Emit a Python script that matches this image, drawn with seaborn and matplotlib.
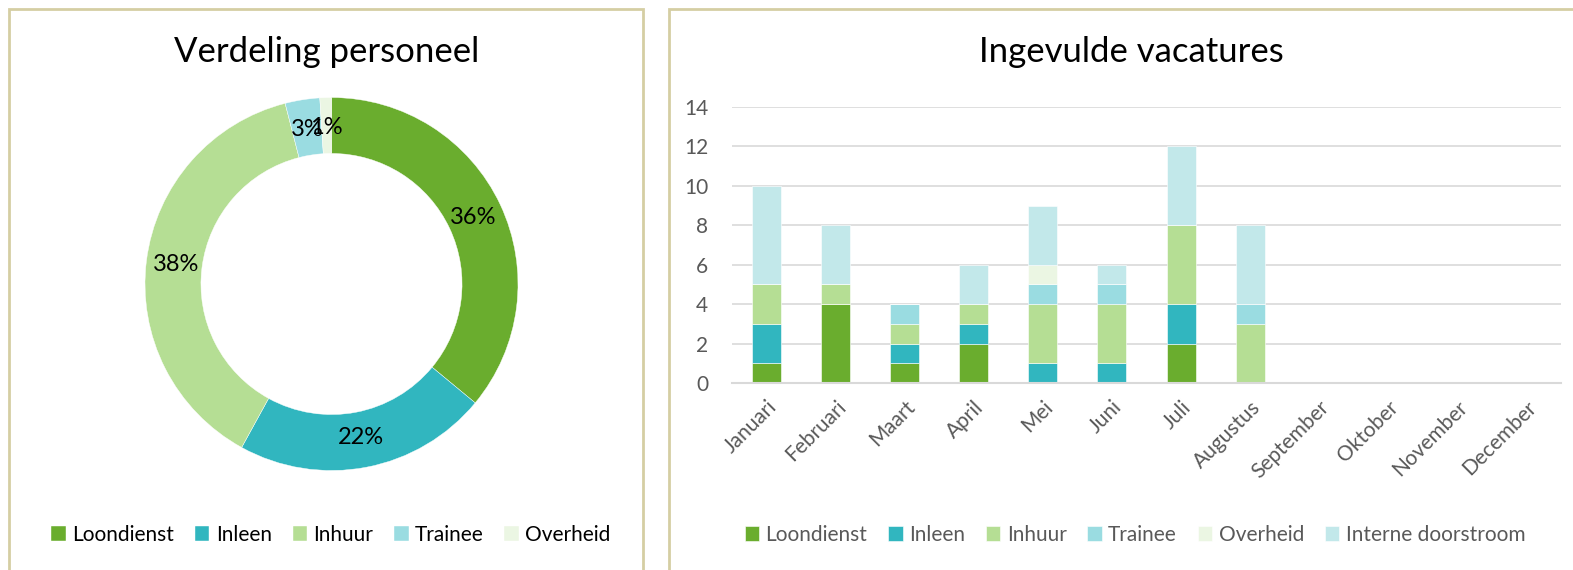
import numpy as np
import pandas as pd
import matplotlib
matplotlib.use("Agg")
import matplotlib.pyplot as plt
import seaborn as sns
from matplotlib.patches import Rectangle

# data
pie_labels = ["Loondienst", "Inleen", "Inhuur", "Trainee", "Overheid"]
pie_values = [36, 22, 38, 3, 1]

months = ["Januari", "Februari", "Maart", "April", "Mei", "Juni", "Juli",
          "Augustus", "September", "Oktober", "November", "December"]
loondienst = [1, 4, 1, 2, 0, 0, 2, 0, 0, 0, 0, 0]
inleen = [2, 0, 1, 1, 1, 1, 2, 0, 0, 0, 0, 0]
inhuur = [2, 1, 1, 1, 3, 3, 4, 3, 0, 0, 0, 0]
trainee = [0, 0, 1, 0, 1, 1, 0, 1, 0, 0, 0, 0]
overheid = [0, 0, 0, 0, 1, 0, 0, 0, 0, 0, 0, 0]
interne = [5, 3, 0, 2, 3, 1, 4, 4, 0, 0, 0, 0]

series_names = ["Loondienst", "Inleen", "Inhuur", "Trainee", "Overheid", "Interne doorstroom"]
colors = ["#6AAD2E", "#31B6BF", "#B5DE94", "#9ADCE1", "#EBF6E3", "#C2E8EA"]

sns.set_theme(style="white")
plt.rcParams['font.family'] = ['Lato', 'DejaVu Sans']

W, H = 1573, 570
fig = plt.figure(figsize=(W / 100, H / 100), dpi=100)

# panel borders
border = "#D5CEA3"
fig.patches.append(Rectangle((9 / W, -0.05), (643 - 9) / W, 1.05 - 9 / H,
                             transform=fig.transFigure, fill=False,
                             edgecolor=border, linewidth=2))
fig.patches.append(Rectangle((669 / W, -0.05), 1.0, 1.05 - 9 / H,
                             transform=fig.transFigure, fill=False,
                             edgecolor=border, linewidth=2))

# ---- donut ----
cx, cy, r = 331.5, 284, 186.5
pad = 1.03
ax1 = fig.add_axes([(cx - r * pad) / W, 1 - (cy + r * pad) / H, 2 * r * pad / W, 2 * r * pad / H])
wedges, texts, autotexts = ax1.pie(
    pie_values, colors=colors[:5], startangle=90, counterclock=False,
    autopct=lambda p: f"{p:.0f}%", pctdistance=0.84,
    wedgeprops=dict(width=0.3, edgecolor="white", linewidth=0.3),
    textprops=dict(fontsize=17, color="black"))
ax1.set_xlim(-pad, pad)
ax1.set_ylim(-pad, pad)
ax1.set_aspect("equal")
ax1.axis("off")
fig.text(327 / W, 1 - 52 / H, "Verdeling personeel", ha="center", va="center",
         fontsize=25, color="black")
fig.legend(wedges, pie_labels, loc="center", bbox_to_anchor=(331 / W, 1 - 535 / H),
           ncol=5, frameon=False, fontsize=15, handlelength=0.7, handleheight=0.7,
           handletextpad=0.3, columnspacing=1.0, labelcolor="#000000")

# ---- stacked bars ----
df = pd.DataFrame({"Maand": months, "Loondienst": loondienst, "Inleen": inleen,
                   "Inhuur": inhuur, "Trainee": trainee, "Overheid": overheid,
                   "Interne doorstroom": interne})
ax2 = fig.add_axes([732 / W, 1 - 383 / H, (1561 - 732) / W, (383 - 107) / H])
bottom = np.zeros(len(months))
handles = []
for name, col in zip(series_names, colors):
    vals = df[name].to_numpy(dtype=float)
    b = ax2.bar(np.arange(len(months)), vals, bottom=bottom, width=0.42,
                color=col, label=name, edgecolor="white", linewidth=0.4)
    handles.append(b)
    bottom += vals
ax2.set_xlim(-0.5, len(months) - 0.5)
ax2.set_ylim(0, 14)
ax2.set_yticks(range(0, 15, 2))
ax2.set_xticks(range(len(months)))
ax2.set_xticklabels(months, rotation=45, ha="right", rotation_mode="anchor")
ax2.tick_params(axis="both", labelsize=15, colors="#595959", length=0)
ax2.tick_params(axis="x", pad=10)
ax2.tick_params(axis="y", pad=17)
ax2.grid(axis="y", color="#D9D9D9", linewidth=1.2)
ax2.set_axisbelow(True)
for s in ["top", "right", "left"]:
    ax2.spines[s].set_visible(False)
ax2.spines["bottom"].set_color("#D9D9D9")
ax2.spines["bottom"].set_linewidth(1.5)
fig.text(1131 / W, 1 - 52 / H, "Ingevulde vacatures", ha="center", va="center",
         fontsize=25, color="black")
fig.legend(handles, series_names, loc="center", bbox_to_anchor=(1135 / W, 1 - 535 / H),
           ncol=6, frameon=False, fontsize=15, handlelength=0.7, handleheight=0.7,
           handletextpad=0.3, columnspacing=1.0, labelcolor="#595959")

fig.savefig("out.png", dpi=100)
